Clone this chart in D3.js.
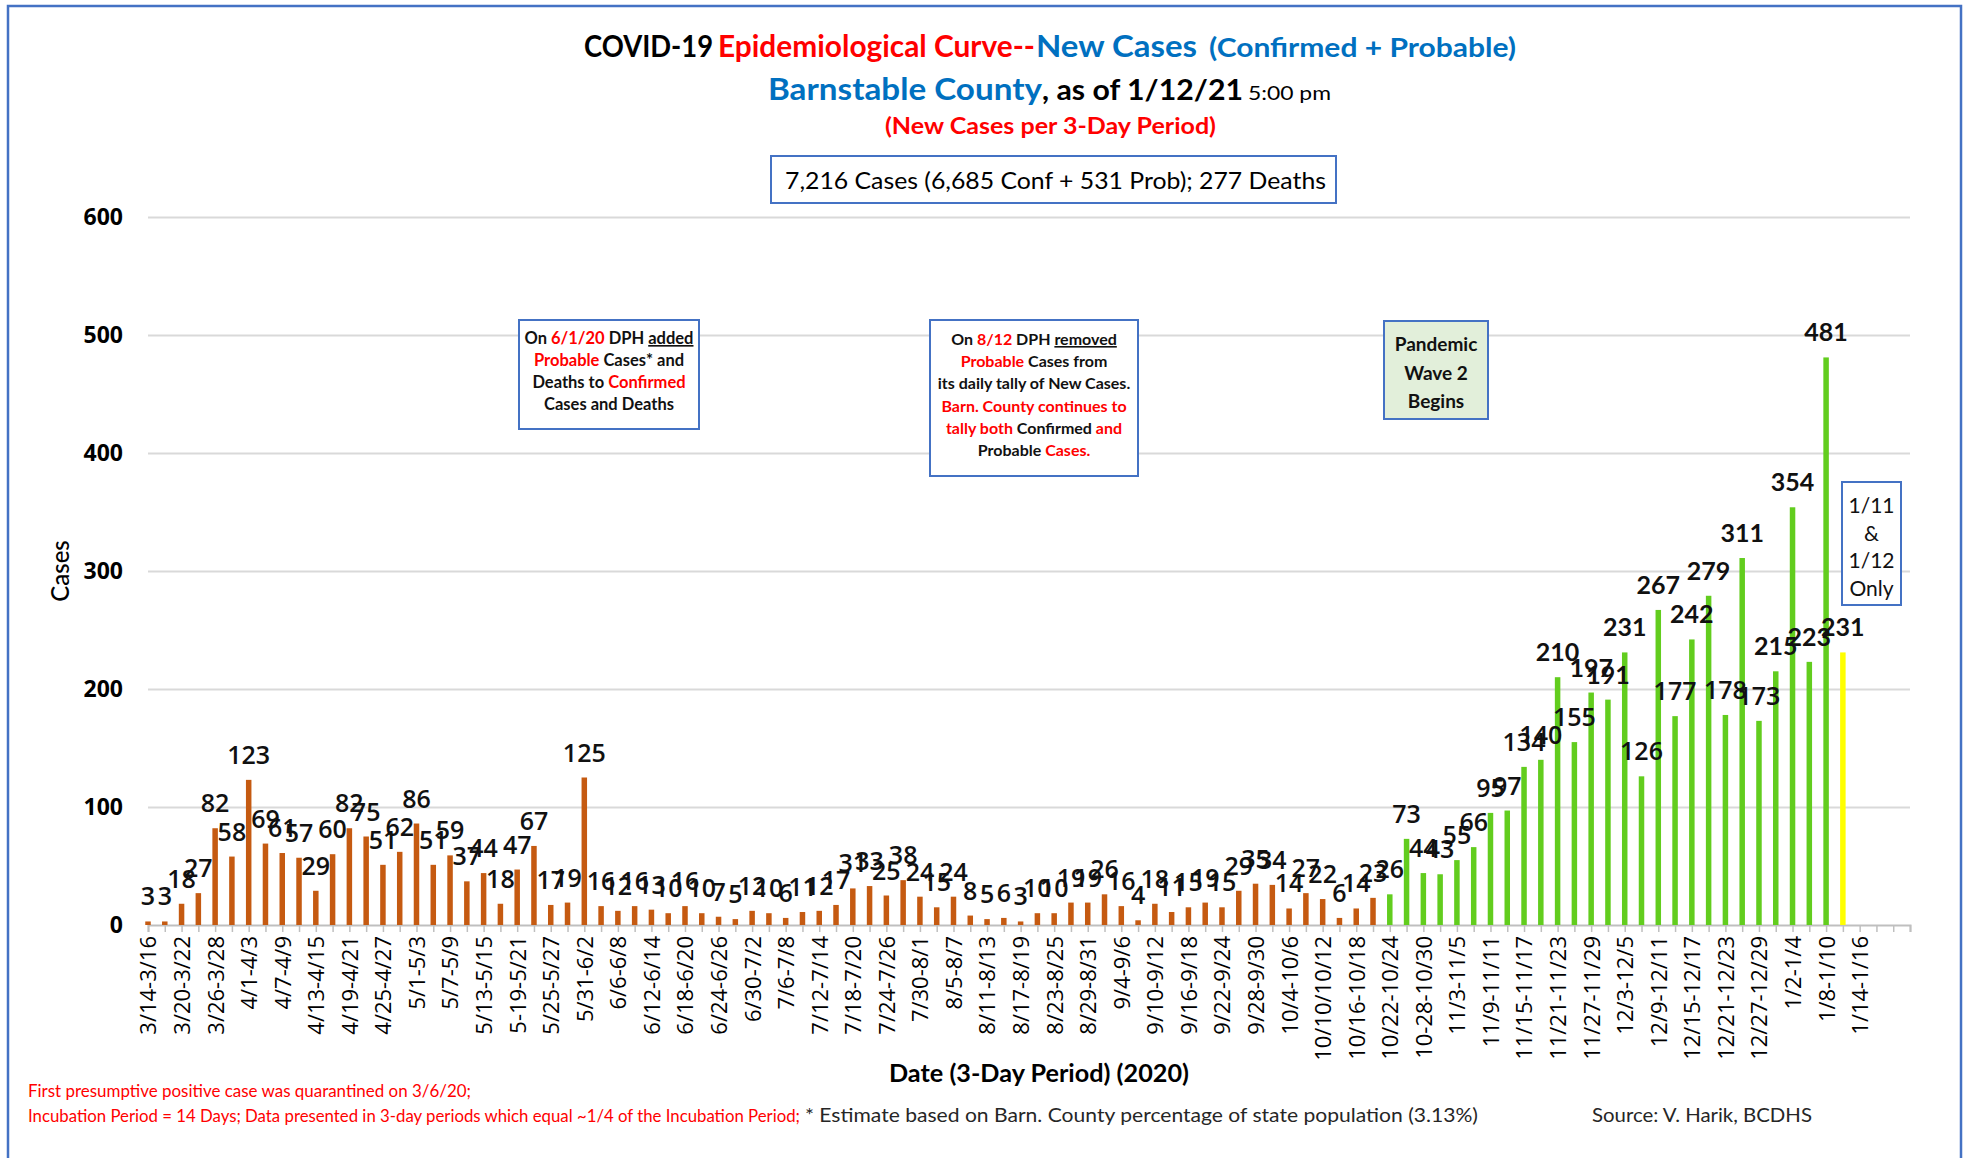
<!DOCTYPE html>
<html><head><meta charset="utf-8">
<script src="https://cdn.jsdelivr.net/npm/d3@7"></script>
<style>html,body{margin:0;padding:0;background:#fff;} svg{display:block;}</style>
</head><body>
<svg id="chart" width="1969" height="1158"></svg>
<script>
// ---------- DATA ----------
// Tick labels (every second 3-day period is labelled on the axis, text as in source)
const tickLabels = ["3/14-3/16","3/20-3/22","3/26-3/28","4/1-4/3","4/7-4/9","4/13-4/15","4/19-4/21","4/25-4/27",
  "5/1-5/3","5/7-5/9","5/13-5/15","5-19-5/21","5/25-5/27","5/31-6/2","6/6-6/8","6/12-6/14","6/18-6/20",
  "6/24-6/26","6/30-7/2","7/6-7/8","7/12-7/14","7/18-7/20","7/24-7/26","7/30-8/1","8/5-8/7","8/11-8/13",
  "8/17-8/19","8/23-8/25","8/29-8/31","9/4-9/6","9/10-9/12","9/16-9/18","9/22-9/24","9/28-9/30","10/4-10/6",
  "10/10/10/12","10/16-10/18","10/22-10/24","10-28-10/30","11/3-11/5","11/9-11/11","11/15-11/17","11/21-11/23",
  "11/27-11/29","12/3-12/5","12/9-12/11","12/15-12/17","12/21-12/23","12/27-12/29","1/2-1/4","1/8-1/10","1/14-1/16"];
const categoryCount = 106;           // 3-day period slots on the category axis
// Wave 1 / summer (orange), 3/14-3/16 .. 10/19-10/21
const orangeCases = [3,3,18,27,82,58,123,69,61,57,29,60,82,75,51,62,86,51,59,37,44,18,47,67,17,19,125,
  16,12,16,13,10,16,10,7,5,12,10,6,11,12,17,31,33,25,38,24,15,24,8,5,6,3,10,10,19,19,26,16,4,
  18,11,15,19,15,29,35,34,14,27,22,6,14,23];
// Pandemic wave 2 (green), 10/22-10/24 .. 1/8-1/10
const greenCases = [26,73,44,43,55,66,95,97,134,140,210,155,197,191,231,126,267,177,242,279,178,311,173,215,354,223,481];
// Partial period 1/11 & 1/12 (yellow)
const yellowCases = [231];
const yTicks = [0,100,200,300,400,500,600];

// ---------- SETUP ----------
const svg = d3.select('#chart');
const plot = {left:148, right:1910, top:217, bottom:925};
const x = d3.scalePoint().domain(d3.range(categoryCount)).range([plot.left, plot.right]);
const y = d3.scaleLinear().domain([0,600]).range([plot.bottom, plot.top]);

const bars = [];
orangeCases.forEach((v,k)=>bars.push({i:k, v, c:'#C55A11'}));
greenCases.forEach((v,k)=>bars.push({i:orangeCases.length+k, v, c:'#62CD1E'}));
yellowCases.forEach((v,k)=>bars.push({i:orangeCases.length+greenCases.length+k, v, c:'#FFFF00'}));

const BLUE='#0070C0', RED='#FF0000', BOX='#4472C4';
const CAL='Lato, "Open Sans", sans-serif';
const SEG='"Open Sans", "Noto Sans", sans-serif';

function seg(x0, yb, str, o){
  const t = svg.append('text').attr('x',x0).attr('y',yb).text(str)
    .attr('font-family', o.family||CAL).attr('font-size', o.size).attr('font-weight', o.weight||'normal')
    .attr('fill', o.fill||'#000');
  if (o.w) t.attr('textLength', o.w).attr('lengthAdjust','spacingAndGlyphs');
  if (o.anchor) t.attr('text-anchor', o.anchor);
  return t;
}

// outer frame
svg.append('rect').attr('x',8).attr('y',6).attr('width',1953).attr('height',1200)
  .attr('fill','none').attr('stroke',BOX).attr('stroke-width',2.5);

// ---------- TITLES ----------
seg(584, 57, 'COVID-19', {size:30, weight:'bold', w:129});
seg(718, 57, 'Epidemiological Curve--', {size:30, weight:'bold', fill:RED, w:317});
seg(1036, 57, 'New Cases', {size:30, weight:'bold', fill:BLUE, w:161});
seg(1209, 57, '(Confirmed + Probable)', {size:26, weight:'bold', fill:BLUE, w:307});
seg(768, 100, 'Barnstable County', {size:30, weight:'bold', fill:BLUE, w:274});
seg(1042, 100, ', as of 1/12/21', {size:28, weight:'bold', w:201});
seg(1248, 100, '5:00 pm', {size:20, w:83});
seg(885, 134, '(New Cases per 3-Day Period)', {size:23, weight:'bold', fill:RED, w:331});

svg.append('rect').attr('x',771).attr('y',156).attr('width',565).attr('height',47)
  .attr('fill','#fff').attr('stroke',BOX).attr('stroke-width',2);
seg(785, 189, '7,216 Cases (6,685 Conf + 531 Prob); 277 Deaths', {size:24, w:541});

// ---------- AXES ----------
const yAxis = svg.append('g').attr('transform',`translate(${plot.left},0)`)
  .call(d3.axisLeft(y).tickValues(yTicks).tickSize(-(plot.right-plot.left)).tickPadding(25));
yAxis.select('.domain').remove();
yAxis.selectAll('.tick line').attr('stroke','#D9D9D9').attr('stroke-width',2)
  .filter(d=>d===0).remove();
yAxis.selectAll('.tick text').attr('font-family',SEG).attr('font-size',23).attr('font-weight','bold').attr('fill','#000');

const xAxis = svg.append('g').attr('transform',`translate(0,${plot.bottom})`)
  .call(d3.axisBottom(x).tickValues(d3.range(categoryCount)).tickSize(7)
    .tickFormat(i => i%2===0 ? (tickLabels[i/2]||'') : ''));
xAxis.select('.domain').attr('stroke','#BFBFBF').attr('stroke-width',2);
xAxis.selectAll('.tick line').attr('stroke','#BFBFBF').attr('stroke-width',1.5);
xAxis.selectAll('.tick text').attr('transform','rotate(-90)').attr('text-anchor','end')
  .attr('x',-11).attr('y',0).attr('dy','0.36em')
  .attr('font-family',SEG).attr('font-size',22).attr('fill','#000');

svg.append('text').attr('transform','translate(59,571) rotate(-90)').attr('text-anchor','middle')
  .attr('dominant-baseline','central').attr('font-family',CAL).attr('font-size',24).attr('font-weight',500)
  .text('Cases');
seg(889, 1082, 'Date (3-Day Period) (2020)', {size:24, weight:'bold', w:300});

// ---------- BARS ----------
const bw = 5.5;
svg.append('g').selectAll('rect').data(bars).join('rect')
  .attr('x', d=>x(d.i)-bw/2).attr('y', d=>y(d.v))
  .attr('width', bw).attr('height', d=>y(0)-y(d.v)).attr('fill', d=>d.c);

svg.append('g').selectAll('text').data(bars).join('text')
  .attr('x', d=>x(d.i)).attr('y', d=>y(d.v)-16).attr('text-anchor','middle')
  .attr('font-family', d=> d.v>=190 ? CAL : SEG)
  .attr('font-weight', d=> d.v>=190 ? 'bold' : 600)
  .attr('font-size', d=> d.v>=190 ? 25 : 25)
  .attr('fill','#111')
  .text(d=>d.v);

// ---------- ANNOTATION BOXES ----------
function box(bx, by, bw_, bh, fill, lines, cx, base0, step, size, weight){
  svg.append('rect').attr('x',bx).attr('y',by).attr('width',bw_).attr('height',bh)
    .attr('fill',fill).attr('stroke',BOX).attr('stroke-width',2);
  lines.forEach((parts,k)=>{
    const t = svg.append('text').attr('x',cx).attr('y',base0+k*step).attr('text-anchor','middle')
      .attr('font-family',CAL).attr('font-size',size).attr('font-weight',weight).attr('fill','#111');
    parts.forEach(p=>{
      const s = t.append('tspan').text(p.t).attr('fill', p.red?RED:'#111');
      if (p.u) s.style('text-decoration','underline');
    });
  });
}
box(519,320,180,109,'#fff',[
  [{t:'On '},{t:'6/1/20',red:1},{t:' DPH '},{t:'added',u:1}],
  [{t:'Probable',red:1},{t:' Cases* and'}],
  [{t:'Deaths to '},{t:'Confirmed',red:1}],
  [{t:'Cases and Deaths'}]
], 609, 344, 22, 16.5, 'bold');
box(930,320,208,156,'#fff',[
  [{t:'On '},{t:'8/12',red:1},{t:' DPH '},{t:'removed',u:1}],
  [{t:'Probable',red:1},{t:' Cases from'}],
  [{t:'its daily tally of New Cases.'}],
  [{t:'Barn. County continues to',red:1}],
  [{t:'tally both',red:1},{t:' Confirmed '},{t:'and',red:1}],
  [{t:'Probable '},{t:'Cases.',red:1}]
], 1034, 345, 22.2, 16, 'bold');
box(1384,321,104,98,'#E2EFDA',[
  [{t:'Pandemic'}],[{t:'Wave 2'}],[{t:'Begins'}]
], 1436, 351, 28.5, 19, 'bold');
box(1842,482,59,123,'#fff',[
  [{t:'1/11'}],[{t:'&'}],[{t:'1/12'}],[{t:'Only'}]
], 1871.5, 513, 27.7, 21, 'normal');

// ---------- FOOTNOTES ----------
seg(28, 1097, 'First presumptive positive case was quarantined on 3/6/20;', {size:17, fill:RED, w:443});
seg(28, 1122, 'Incubation Period = 14 Days; Data presented in 3-day periods which equal ~1/4 of the Incubation Period;', {size:17, fill:RED, w:772});
seg(805, 1122, '* Estimate based on Barn. County percentage of state population (3.13%)', {size:20, fill:'#262626', w:673});
seg(1592, 1122, 'Source: V. Harik, BCDHS', {size:20, fill:'#262626', w:220});
</script>
</body></html>
